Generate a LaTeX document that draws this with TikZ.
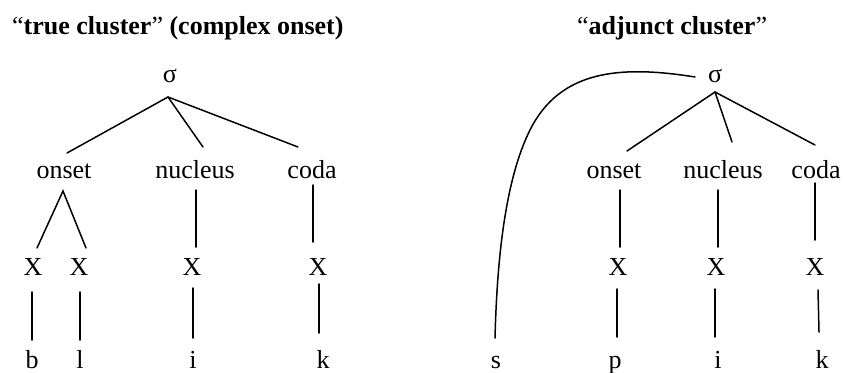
\documentclass[tikz,border=0pt]{standalone}
\usepackage{fontspec}
\setmainfont{Liberation Serif}
\usetikzlibrary{calc}
\tikzset{
  lbl/.style={anchor=base, inner sep=0pt, font=\fontsize{26}{30}\selectfont},
  ttl/.style={anchor=base west, inner sep=0pt, font=\fontsize{26}{30}\selectfont\bfseries},
  edge/.style={line width=1.5pt, line cap=round}
}
\begin{document}
\begin{tikzpicture}[x=1pt,y=1pt]
\useasboundingbox (0,0) rectangle (845,-372);
% titles
\node[ttl] (tL) at (12,-34) {{\mdseries “}true cluster{\mdseries ”} (complex onset)};
\node[ttl] (tR) at (577,-34) {{\mdseries “}adjunct cluster{\mdseries ”}};
% left tree
\node[lbl] (sigL) at (170,-82) {σ};
\node[lbl] (onsL) at (64,-178) {onset};
\node[lbl] (nucL) at (195,-178) {nucleus};
\node[lbl] (codL) at (312,-178) {coda};
\node[lbl] (xL1) at (33,-275) {X};
\node[lbl] (xL2) at (79,-275) {X};
\node[lbl] (xL3) at (192,-275) {X};
\node[lbl] (xL4) at (318,-275) {X};
\node[lbl] (bL) at (32,-368) {b};
\node[lbl] (lL) at (80,-368) {l};
\node[lbl] (iL) at (193,-368) {i};
\node[lbl] (kL) at (323,-368) {k};
\draw[edge] ($(sigL.base)+(-2,-15)$) -- ($(onsL.base)+(3,25)$);
\draw[edge] ($(sigL.base)+(-2,-15)$) -- ($(nucL.base)+(8,31)$);
\draw[edge] ($(sigL.base)+(-2,-15)$) -- ($(codL.base)+(-14,31)$);
\draw[edge] ($(xL1.base)+(4,27)$) -- ($(onsL.base)+(-1,-13)$) -- ($(xL2.base)+(7,27)$);
\draw[edge] ($(nucL.base)+(1,-12)$) -- ($(xL3.base)+(4,28)$);
\draw[edge] ($(codL.base)+(1,-7)$) -- ($(xL4.base)+(-5,33)$);
\draw[edge] ($(xL1.base)+(-1,-17)$) -- ($(bL.base)+(0,28)$);
\draw[edge] ($(xL2.base)+(1,-17)$) -- ($(lL.base)+(0,28)$);
\draw[edge] ($(xL3.base)+(1,-13)$) -- ($(iL.base)+(0,30)$);
\draw[edge] ($(xL4.base)+(1,-9)$) -- ($(kL.base)+(-4,35)$);
% right tree
\node[lbl] (sigR) at (715,-82) {σ};
\node[lbl] (onsR) at (614,-178) {onset};
\node[lbl] (nucR) at (723,-178) {nucleus};
\node[lbl] (codR) at (816,-178) {coda};
\node[lbl] (xR1) at (618,-275) {X};
\node[lbl] (xR2) at (716,-275) {X};
\node[lbl] (xR3) at (815,-275) {X};
\node[lbl] (sR) at (496,-368) {s};
\node[lbl] (pR) at (615,-368) {p};
\node[lbl] (iR) at (718,-368) {i};
\node[lbl] (kR) at (822,-368) {k};
\draw[edge] ($(sigR.base)+(0,-10)$) -- ($(onsR.base)+(13,27)$);
\draw[edge] ($(sigR.base)+(0,-10)$) -- ($(nucR.base)+(9,36)$);
\draw[edge] ($(sigR.base)+(0,-10)$) -- ($(codR.base)+(-1,33)$);
\draw[edge] ($(onsR.base)+(6,-12)$) -- ($(xR1.base)+(2,28)$);
\draw[edge] ($(nucR.base)+(-5,-12)$) -- ($(xR2.base)+(2,28)$);
\draw[edge] ($(codR.base)+(-1,-5)$) -- ($(xR3.base)+(0,35)$);
\draw[edge] ($(xR1.base)+(-1,-14)$) -- ($(pR.base)+(2,31)$);
\draw[edge] ($(xR2.base)+(-1,-14)$) -- ($(iR.base)+(-3,31)$);
\draw[edge] ($(xR3.base)+(3,-15)$) -- ($(kR.base)+(-3,36)$);
\draw[edge] ($(sigR.base)+(-20,5)$) .. controls (620,-65) and (560,-70) .. (530,-130)
  .. controls (505,-180) and (497,-260) .. ($(sR.base)+(-1,30)$);
\end{tikzpicture}
\end{document}
